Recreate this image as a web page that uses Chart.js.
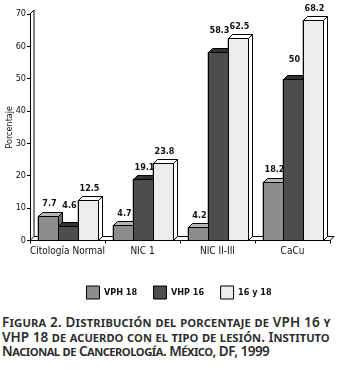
<!DOCTYPE html>
<html>
<head>
<meta charset="utf-8">
<script src="https://cdn.jsdelivr.net/npm/chart.js@4.4.1/dist/chart.umd.min.js"></script>
<style>
  html, body { margin: 0; padding: 0; background: #fff; }
  #wrap { position: relative; width: 337px; height: 309px; }
  #caption {
    margin: 6px 0 0 2px;
    font-family: "Noto Sans", "Open Sans", sans-serif;
    font-variant: small-caps;
    font-weight: 600;
    font-size: 13.5px;
    line-height: 14.5px;
    color: #2b2b2b;
    white-space: nowrap;
  }
  #caption span { display: block; }
</style>
</head>
<body>
<div id="wrap"><canvas id="chart"></canvas></div>
<div id="caption">
  <span style="letter-spacing:0.18px">Figura 2. Distribución del porcentaje de VPH 16 y</span>
  <span style="letter-spacing:0.04px">VHP 18 de acuerdo con el tipo de lesión. Instituto</span>
  <span style="letter-spacing:-0.5px">Nacional de Cancerología. México, DF, 1999</span>
</div>
<script>
const categories = ["Citología Normal", "NIC 1", "NIC II-III", "CaCu"];
const vph18 = [7.7, 4.7, 4.2, 18.2];
const vhp16 = [4.6, 19.1, 58.3, 50];
const both = [12.5, 23.8, 62.5, 68.2];
const yMax = 70;
const yStep = 10;

const font = '"Liberation Sans Narrow", "DejaVu Sans Condensed", "Liberation Sans", sans-serif';
const depth = 4;

// front, top, side colours per series
const faces = [
  { front: "#8d8d8d", top: "#b4b4b4", side: "#6a6a6a" },
  { front: "#4d4d4d", top: "#333333", side: "#2a2a2a" },
  { front: "#ececec", top: "#ffffff", side: "#ffffff" },
];

// extra lift for a few value labels that sit beside taller neighbours
const labelLift = { "1-0": 8, "1-2": 10, "1-3": 8 };

const bars3d = {
  id: "bars3d",
  afterLayout(chart) {
    // legend sits a little right of centre in the original
    chart.legend.left += 14;
    chart.legend.right += 14;
  },
  beforeDatasetsDraw(chart) {
    const { ctx, chartArea: a } = chart;
    const yBase = chart.scales.y.getPixelForValue(0);
    ctx.save();
    ctx.strokeStyle = "#000";
    ctx.lineWidth = 1;
    // floor
    ctx.fillStyle = "#fff";
    ctx.beginPath();
    ctx.moveTo(a.left, yBase);
    ctx.lineTo(a.left + depth, yBase - depth);
    ctx.lineTo(a.right + depth, yBase - depth);
    ctx.lineTo(a.right, yBase);
    ctx.closePath();
    ctx.fill();
    ctx.stroke();
    // back wall
    ctx.beginPath();
    ctx.moveTo(a.left + depth, yBase - depth);
    ctx.lineTo(a.left + depth, a.top - depth);
    ctx.lineTo(a.left, a.top);
    ctx.stroke();
    ctx.restore();
  },
  afterDatasetsDraw(chart) {
    const { ctx } = chart;
    ctx.save();
    ctx.lineWidth = 1;
    ctx.strokeStyle = "#000";
    chart.data.datasets.forEach((ds, di) => {
      const meta = chart.getDatasetMeta(di);
      const f = faces[di];
      meta.data.forEach((bar, i) => {
        const l = Math.round(bar.x - bar.width / 2) + 0.5;
        const r = Math.round(bar.x + bar.width / 2) + 0.5;
        const t = Math.round(bar.y) + 0.5;
        const b = Math.round(bar.base) + 0.5;
        // front
        ctx.fillStyle = f.front;
        ctx.fillRect(l, t, r - l, b - t);
        ctx.strokeRect(l, t, r - l, b - t);
        // top
        ctx.fillStyle = f.top;
        ctx.beginPath();
        ctx.moveTo(l, t);
        ctx.lineTo(l + depth, t - depth);
        ctx.lineTo(r + depth, t - depth);
        ctx.lineTo(r, t);
        ctx.closePath();
        ctx.fill();
        ctx.stroke();
        // side
        ctx.fillStyle = f.side;
        ctx.beginPath();
        ctx.moveTo(r, t);
        ctx.lineTo(r + depth, t - depth);
        ctx.lineTo(r + depth, b - depth);
        ctx.lineTo(r, b);
        ctx.closePath();
        ctx.fill();
        ctx.stroke();
      });
    });
    // value labels
    ctx.fillStyle = "#111";
    ctx.font = "bold 9px " + font;
    ctx.textAlign = "center";
    ctx.textBaseline = "bottom";
    chart.data.datasets.forEach((ds, di) => {
      const meta = chart.getDatasetMeta(di);
      meta.data.forEach((bar, i) => {
        const lift = labelLift[di + "-" + i] || 0;
        ctx.fillText(String(ds.data[i]), bar.x + depth / 2, bar.y - depth - 3 - lift);
      });
    });
    ctx.restore();
  },
};

new Chart(document.getElementById("chart"), {
  type: "bar",
  data: {
    labels: categories,
    datasets: [
      { label: "VPH 18", data: vph18, backgroundColor: faces[0].front, borderColor: "#000", borderWidth: 1 },
      { label: "VHP 16", data: vhp16, backgroundColor: faces[1].front, borderColor: "#000", borderWidth: 1 },
      { label: "16 y 18", data: both, backgroundColor: faces[2].front, borderColor: "#000", borderWidth: 1 },
    ],
  },
  options: {
    responsive: true,
    maintainAspectRatio: false,
    animation: false,
    layout: { padding: { top: 14, right: 7, left: 0, bottom: 0 } },
    datasets: { bar: { categoryPercentage: 0.8, barPercentage: 1.0 } },
    scales: {
      x: {
        grid: { display: true, offset: true, drawOnChartArea: false, drawTicks: true, tickLength: 3, color: "#000" },
        border: { display: true, color: "#000" },
        ticks: { color: "#111", font: { family: font, size: 10 }, padding: 2, maxRotation: 0, autoSkip: false },
        afterFit(scale) { scale.height += 10; },
      },
      y: {
        min: 0,
        max: yMax,
        ticks: { stepSize: yStep, color: "#111", font: { family: font, size: 9 }, padding: 1 },
        grid: { drawOnChartArea: false, drawTicks: true, tickLength: 3, color: "#000" },
        border: { display: true, color: "#000" },
        title: { display: true, text: "Porcentaje", color: "#111", font: { family: font, size: 9 }, padding: 4 },
        afterFit(scale) { scale.width = 30; },
      },
    },
    plugins: {
      legend: {
        position: "bottom",
        labels: {
          boxWidth: 13,
          boxHeight: 13,
          padding: 16.5,
          color: "#111",
          font: { family: font, size: 9, weight: "bold" },
        },
      },
      tooltip: { enabled: false },
    },
  },
  plugins: [bars3d],
});
</script>
</body>
</html>
